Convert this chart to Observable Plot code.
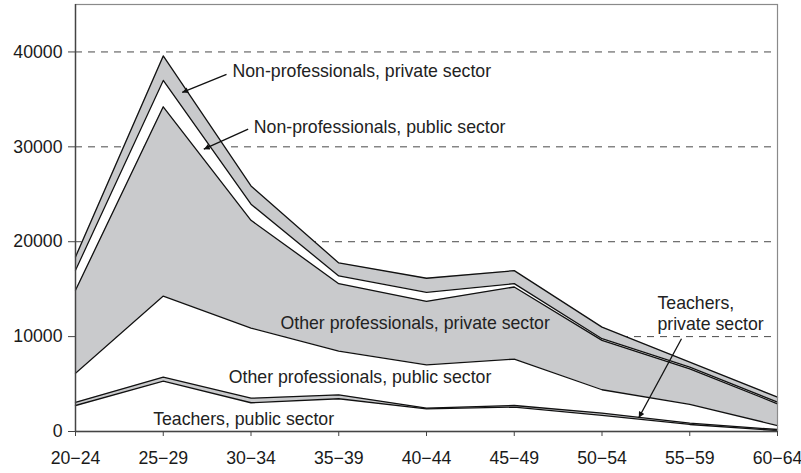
<!DOCTYPE html>
<html><head><meta charset="utf-8">
<script src="https://cdn.jsdelivr.net/npm/d3@7"></script>
<script src="https://cdn.jsdelivr.net/npm/@observablehq/plot@0.6"></script>
<style>
html,body{margin:0;padding:0;background:#fff}
#chart svg{display:block}
</style>
</head><body><div id="chart"></div>
<script>
// ---- data ----
const ageGroups = ["20−24","25−29","30−34","35−39","40−44","45−49","50−54","55−59","60−64"];
const seriesNames = [
  "Teachers, public sector",
  "Teachers, private sector",
  "Other professionals, public sector",
  "Other professionals, private sector",
  "Non-professionals, public sector",
  "Non-professionals, private sector"
];
const teachersPublic       = [2740, 5310, 3030, 3450, 2390, 2570, 1690,  740,  100];
const teachersPrivate      = [ 330,  420,  480,  420,   70,  170,  240,  140,  110];
const otherProfPublic      = [3080, 8540, 7390, 4610, 4570, 4890, 2470, 1970,  420];
const otherProfPrivate     = [8730,19950,11360, 7100, 6690, 7600, 5200, 3760, 2290];
const nonProfPublic        = [2110, 2780, 1690,  810,  950,  350,  180,  180,  170];
const nonProfPrivate       = [1410, 2580, 1930, 1370, 1480, 1370, 1220,  520,  530];
const seriesValues = [teachersPublic, teachersPrivate, otherProfPublic, otherProfPrivate, nonProfPublic, nonProfPrivate];
const yTicks = [0, 10000, 20000, 30000, 40000];
const gridTicks = [10000, 20000, 30000, 40000];

// annotation labels (position given in data space: age index, value)
const labelTexts  = ["Non-professionals, private sector", "Non-professionals, public sector",
                     "Other professionals, private sector", "Other professionals, public sector",
                     "Teachers, public sector", "Teachers,\nprivate sector"];
const labelAge    = [1.789, 2.032, 2.336, 1.747, 0.885, 6.632];
const labelValue  = [38100, 32150, 11530, 5800, 1340, 12490];
// arrows: from (age1,value1) to (age2,value2)
const arrowAge1   = [1.721, 1.968, 6.906];
const arrowValue1 = [37630, 31860, 9780];
const arrowAge2   = [1.216, 1.462, 6.419];
const arrowValue2 = [35730, 29750, 1445];

// ---- build tables ----
const rows = [];
seriesNames.forEach((s, k) => seriesValues[k].forEach((v, i) => rows.push({age: i, series: s, value: v})));
const labels = labelTexts.map((t, i) => ({text: t, age: labelAge[i], value: labelValue[i]}));
const arrows = arrowAge1.map((a, i) => ({x1: a, y1: arrowValue1[i], x2: arrowAge2[i], y2: arrowValue2[i]}));
const bandFill = ["#ffffff", "#c9cacc", "#ffffff", "#c9cacc", "#ffffff", "#c9cacc"];

const FS = 17.7;
const chart = Plot.plot({
  width: 801,
  height: 473,
  marginLeft: 75,
  marginRight: 24,
  marginTop: 4,
  marginBottom: 42,
  style: {fontFamily: "'Liberation Sans', Arial, sans-serif", fontSize: FS + "px", background: "#fff", color: "#1a1a1a"},
  x: {type: "linear", domain: [0, ageGroups.length - 1]},
  y: {domain: [0, 45000]},
  color: {type: "ordinal", domain: seriesNames, range: bandFill},
  marks: [
    Plot.gridY(gridTicks, {stroke: "#4a4a4a", strokeOpacity: 1, strokeWidth: 1, strokeDasharray: "7,6"}),
    Plot.areaY(rows, {x: "age", y: "value", z: "series", fill: "series", fillOpacity: 1}),
    Plot.lineY(rows, Plot.stackY2({x: "age", y: "value", z: "series", stroke: "#111", strokeWidth: 1.3})),
    Plot.frame({stroke: "#8a8a8a", strokeWidth: 1.2}),
    Plot.ruleX([0], {stroke: "#444", strokeWidth: 1.4}),
    Plot.ruleY([0], {stroke: "#444", strokeWidth: 1.4}),
    Plot.axisY({ticks: yTicks, tickFormat: d3.format("d"), tickSize: 7, tickPadding: 6, label: null, stroke: "#444", fill: "#1a1a1a", fontSize: FS}),
    Plot.axisX({ticks: d3.range(ageGroups.length), tickFormat: i => ageGroups[i], tickSize: 5, tickPadding: 15, label: null, stroke: "#444", fill: "#1a1a1a", fontSize: FS}),
    Plot.link(arrows, {x1: "x1", y1: "y1", x2: "x2", y2: "y2", stroke: "#111", strokeWidth: 1.3}),
    Plot.text(labels, {x: "age", y: "value", text: "text", textAnchor: "start", lineAnchor: "middle", lineHeight: 1.18, fill: "#222", fontSize: FS})
  ]
});
// filled arrowheads on the annotation links
const ns = "http://www.w3.org/2000/svg";
const defs = document.createElementNS(ns, "defs");
const marker = document.createElementNS(ns, "marker");
marker.setAttribute("id", "ahead");
marker.setAttribute("viewBox", "0 0 10 10");
marker.setAttribute("refX", "10");
marker.setAttribute("refY", "5");
marker.setAttribute("markerUnits", "userSpaceOnUse");
marker.setAttribute("markerWidth", "9");
marker.setAttribute("markerHeight", "6");
marker.setAttribute("orient", "auto");
const mp = document.createElementNS(ns, "path");
mp.setAttribute("d", "M0,0L10,5L0,10z");
mp.setAttribute("fill", "#111");
marker.appendChild(mp);
defs.appendChild(marker);
chart.insertBefore(defs, chart.firstChild);
chart.querySelectorAll('g[aria-label="link"] path').forEach(p => p.setAttribute("marker-end", "url(#ahead)"));
document.getElementById("chart").appendChild(chart);
</script>
</body></html>
